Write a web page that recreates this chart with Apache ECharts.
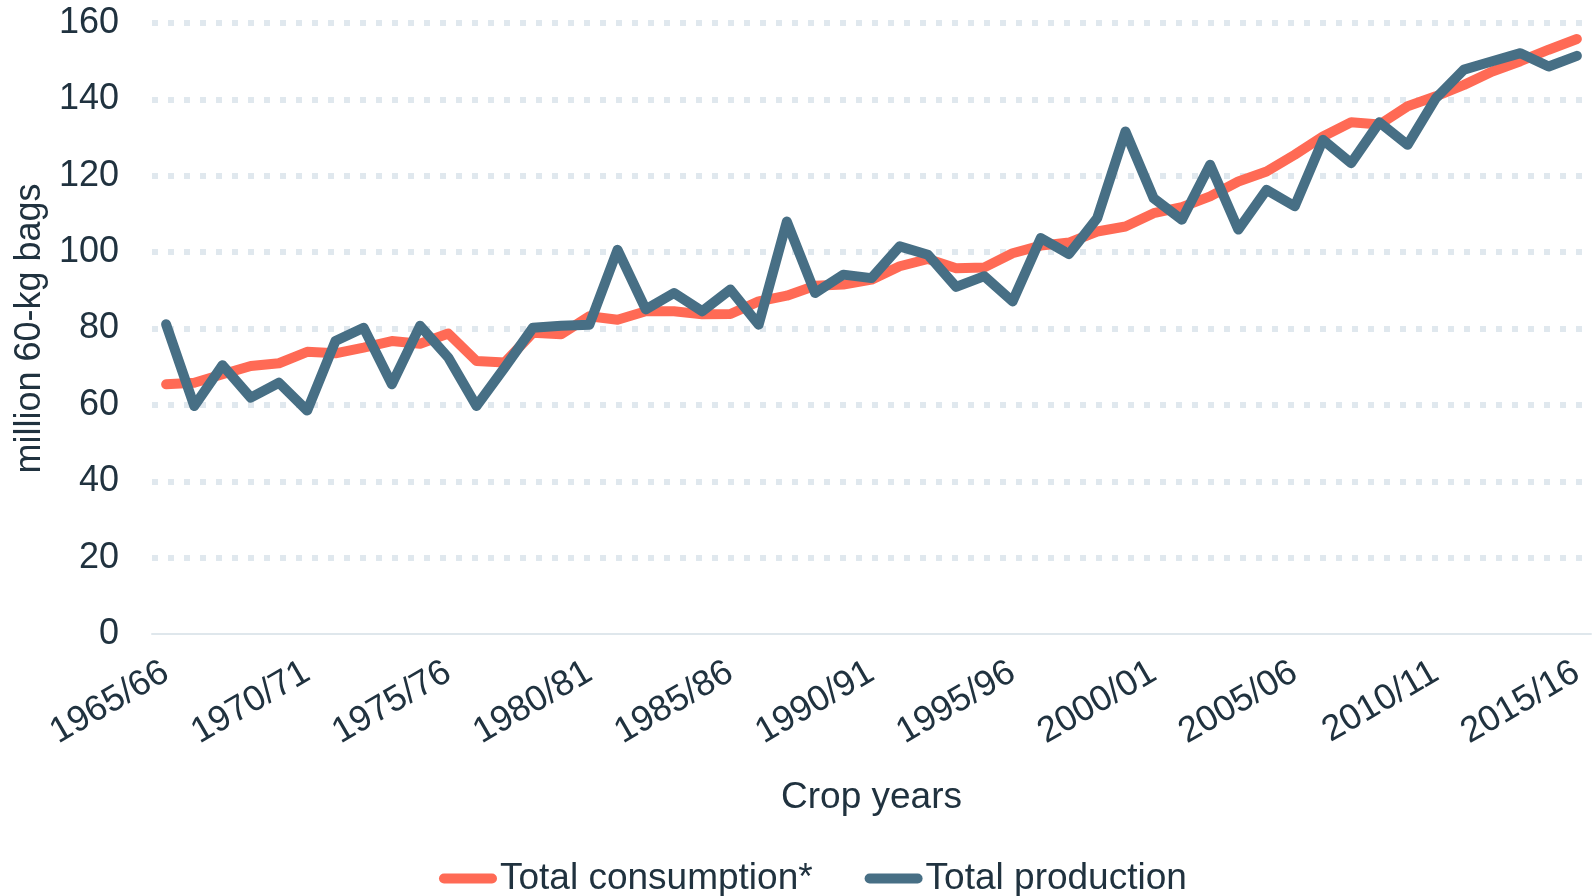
<!DOCTYPE html>
<html>
<head>
<meta charset="utf-8">
<script src="https://cdn.jsdelivr.net/npm/echarts@6/dist/echarts.min.js"></script>
<style>
html,body{margin:0;padding:0;background:#fff;}
#chart{width:1595px;height:896px;}
</style>
</head>
<body>
<div id="chart"></div>
<script>
var cropYears = ["1965/66","1966/67","1967/68","1968/69","1969/70","1970/71","1971/72","1972/73","1973/74","1974/75",
"1975/76","1976/77","1977/78","1978/79","1979/80","1980/81","1981/82","1982/83","1983/84","1984/85",
"1985/86","1986/87","1987/88","1988/89","1989/90","1990/91","1991/92","1992/93","1993/94","1994/95",
"1995/96","1996/97","1997/98","1998/99","1999/00","2000/01","2001/02","2002/03","2003/04","2004/05",
"2005/06","2006/07","2007/08","2008/09","2009/10","2010/11","2011/12","2012/13","2013/14","2014/15","2015/16"];

var totalConsumption = [65.4,65.8,68.0,70.2,70.9,73.9,73.5,75.0,76.7,76.0,
78.7,71.5,71.1,78.9,78.5,83.2,82.3,84.5,84.5,83.7,
83.8,87.1,88.6,91.2,91.5,92.8,96.3,98.2,95.8,96.0,
99.7,101.7,102.5,105.4,106.7,110.2,111.8,114.6,118.5,121.1,
125.5,130.3,134.0,133.4,138.2,140.8,143.8,147.3,150.0,153.0,155.8];

var totalProduction = [81.1,59.7,70.4,61.9,65.8,58.5,76.7,80.2,65.4,80.7,
72.4,59.7,69.8,80.2,80.7,81.0,100.6,85.0,89.3,84.5,
90.2,81.0,108.0,89.3,94.1,93.2,101.5,99.3,90.9,93.7,
87.1,103.7,99.5,108.9,131.6,114.1,108.5,122.9,105.9,116.3,
112.0,129.4,123.3,134.0,128.1,140.3,147.8,150.0,152.1,148.6,151.4];

var yTicks = {min: 0, max: 160, interval: 20};
var seriesNames = ["Total consumption*", "Total production"];
var axisTitles = {x: "Crop years", y: "million 60-kg bags"};

var textColor = "#20323f";
var fontFam = "'Liberation Sans', Arial, sans-serif";
var chart = echarts.init(document.getElementById('chart'));
chart.setOption({
  animation: false,
  backgroundColor: "#ffffff",
  grid: {left: 152, right: 4, top: 23, bottom: 262, containLabel: false},
  legend: {
    left: 434, top: 855,
    itemWidth: 58, itemHeight: 10, itemGap: 52,
    icon: 'path://M5,0 L53,0 A5,5 0 0 1 53,10 L5,10 A5,5 0 0 1 5,0 Z',
    textStyle: {color: textColor, fontSize: 37, fontFamily: fontFam, padding: [0,0,0,-2]},
    data: seriesNames
  },
  xAxis: {
    type: 'category',
    data: cropYears,
    boundaryGap: true,
    name: axisTitles.x,
    nameLocation: 'middle',
    nameGap: 145,
    nameTextStyle: {color: textColor, fontSize: 37, fontFamily: fontFam},
    axisLine: {lineStyle: {color: "#dfe7ec", width: 2}},
    axisTick: {interval: 4, length: 11, lineStyle: {color: "#dfe7ec", width: 2}},
    axisLabel: {interval: 4, rotate: 30, color: textColor, fontSize: 36, fontFamily: fontFam, margin: 36},
    splitLine: {show: false}
  },
  yAxis: {
    type: 'value',
    min: yTicks.min, max: yTicks.max, interval: yTicks.interval,
    name: axisTitles.y,
    nameLocation: 'middle',
    nameGap: 103,
    nameTextStyle: {color: textColor, fontSize: 36, fontFamily: fontFam},
    axisLine: {show: false},
    axisTick: {show: false},
    axisLabel: {color: textColor, fontSize: 36, fontFamily: fontFam, margin: 33},
    splitLine: {show: true, showMinLine: false, lineStyle: {color: "#e0e8ee", width: 6, type: [6, 10]}}
  },
  series: [
    {
      name: seriesNames[0], type: 'line', data: totalConsumption,
      showSymbol: false, symbol: 'none',
      itemStyle: {color: "#ff6a55"},
      lineStyle: {color: "#ff6a55", width: 10, cap: 'round', join: 'round'}
    },
    {
      name: seriesNames[1], type: 'line', data: totalProduction,
      showSymbol: false, symbol: 'none',
      itemStyle: {color: "#476f85"},
      lineStyle: {color: "#476f85", width: 10, cap: 'round', join: 'round'}
    }
  ]
});
</script>
</body>
</html>
